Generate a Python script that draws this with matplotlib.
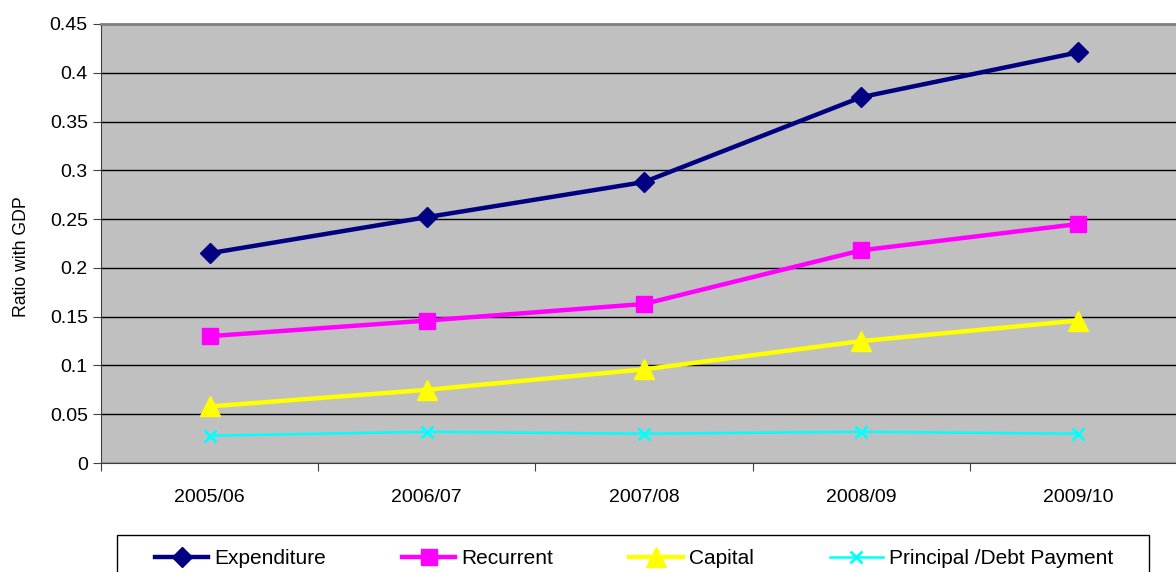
import matplotlib
matplotlib.use("Agg")
import matplotlib.pyplot as plt
import matplotlib.patches as patches

# ============================================
# DATA
# ============================================
years = ["2005/06", "2006/07", "2007/08", "2008/09", "2009/10"]
expenditure = [0.215, 0.252, 0.288, 0.375, 0.421]
recurrent = [0.130, 0.146, 0.163, 0.218, 0.245]
capital = [0.058, 0.075, 0.096, 0.125, 0.146]
principal = [0.028, 0.032, 0.030, 0.032, 0.030]

plt.rcParams['font.family'] = ['Liberation Sans', 'DejaVu Sans']

fig = plt.figure(figsize=(11.76, 5.72), dpi=100)
W, H = 1176, 572
# plot area runs a little past the right edge of the image, like the original
ax = fig.add_axes([101 / W, 1 - 463 / H, (1187 - 101) / W, (463 - 24) / H])
ax.set_facecolor('#C0C0C0')

x = list(range(len(years)))
ax.plot(x, expenditure, color='#000080', lw=3.2, marker='D', ms=10, label='Expenditure')
ax.plot(x, recurrent, color='#FF00FF', lw=3.2, marker='s', ms=12, label='Recurrent')
ax.plot(x, capital, color='#FFFF00', lw=3.2, marker='^', ms=15, label='Capital')
ax.plot(x, principal, color='#00FFFF', lw=1.8, marker='x', ms=9, mew=2,
        label='Principal /Debt Payment')

ax.set_xlim(-0.5, len(years) - 0.5)
ax.set_ylim(0, 0.45)
ax.set_yticks([i * 0.05 for i in range(10)])
ax.set_yticklabels(['0', '0.05', '0.1', '0.15', '0.2', '0.25', '0.3', '0.35', '0.4', '0.45'])
ax.yaxis.grid(True, color='black', lw=1)
ax.set_axisbelow(True)

# category labels sit between the boundary ticks
ax.set_xticks([i - 0.5 for i in range(len(years) + 1)])
ax.set_xticklabels([])
ax.set_xticks(x, minor=True)
ax.set_xticklabels(years, minor=True)
ax.tick_params(axis='x', which='minor', length=0, pad=19, labelsize=14)
ax.tick_params(axis='x', which='major', length=6, color='#404040')
ax.tick_params(axis='y', length=6, labelsize=14, color='#404040')

for side in ['top', 'right']:
    ax.spines[side].set_color('#808080')
    ax.spines[side].set_linewidth(2)
ax.spines['left'].set_color('#404040')
ax.spines['bottom'].set_color('#404040')

fig.text(22 / W, 1 - 257 / H, 'Ratio with GDP', rotation=90,
         ha='center', va='center', fontsize=12.7)

# legend frame drawn by hand so it can run off the bottom edge
frame = patches.Rectangle((117 / W, -0.1), (1149 - 117) / W, 0.1 + (572 - 535) / H,
                          transform=fig.transFigure, facecolor='white',
                          edgecolor='black', lw=1, clip_on=False, zorder=0)
fig.patches.append(frame)

fig.legend(loc='center left', ncol=4, frameon=False,
           bbox_to_anchor=(155 / W, 1 - 559 / H), borderpad=0, borderaxespad=0,
           fontsize=15, handlelength=2.55, handletextpad=0.3, columnspacing=3.65)

fig.savefig('out.png', dpi=100)
